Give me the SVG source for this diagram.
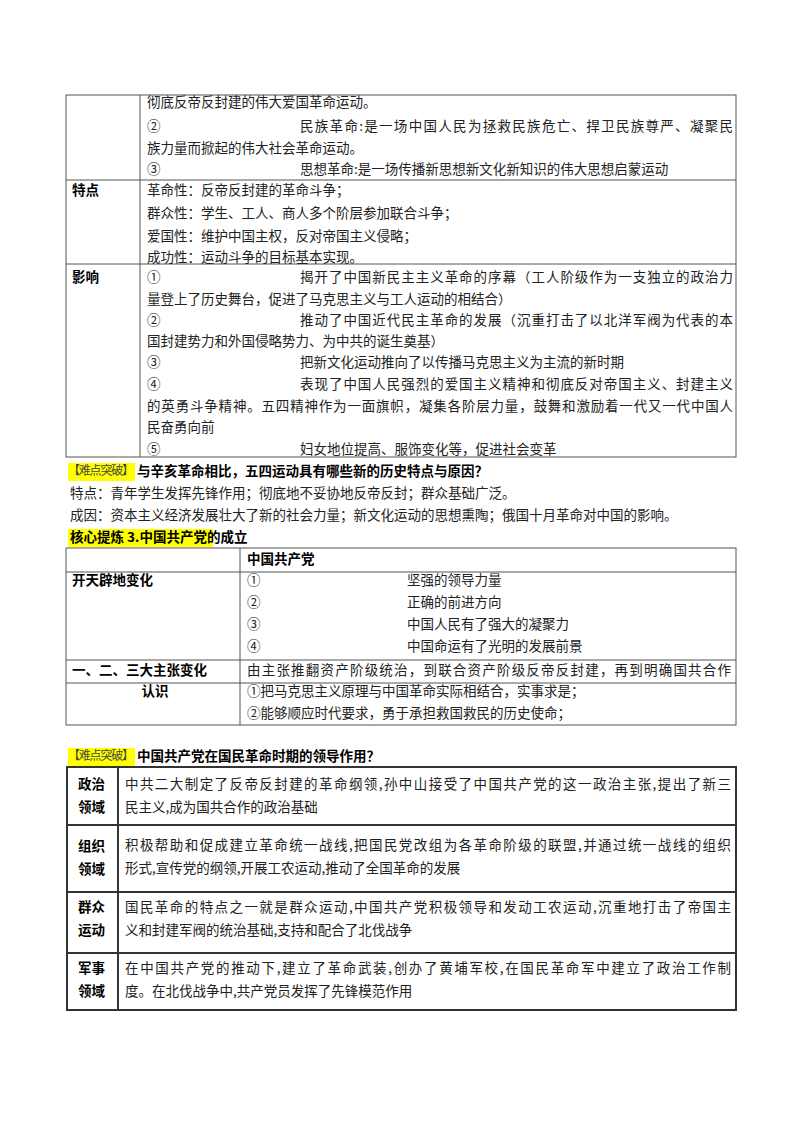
<svg xmlns="http://www.w3.org/2000/svg" width="800" height="1132" viewBox="0 0 800 1132">
<style>
text{font-family:"Noto Sans CJK SC","Liberation Sans",sans-serif;font-size:13.5px;fill:#222;dominant-baseline:middle}
.b{font-weight:bold;fill:#000}
.ln{stroke:#555;stroke-width:1;fill:none}
.tk{stroke:#333;stroke-width:2;fill:none}
.hl{fill:#ffff00}
.tag{font-size:12px;fill:#444}
</style>
<rect width="800" height="1132" fill="#fff"/>
<g id="table1">
<rect class="ln" x="66" y="95" width="670" height="362"/>
<line class="ln" x1="140" y1="95" x2="140" y2="457"/>
<line class="ln" x1="66" y1="180" x2="736" y2="180"/>
<line class="ln" x1="66" y1="264" x2="736" y2="264"/>
<text x="147" y="103">彻底反帝反封建的伟大爱国革命运动。</text>
<text x="147" y="127">②</text><text x="300" y="127" textLength="433">民族革命:是一场中国人民为拯救民族危亡、捍卫民族尊严、凝聚民</text>
<text x="147" y="149">族力量而掀起的伟大社会革命运动。</text>
<text x="147" y="170">③</text><text x="300" y="170">思想革命:是一场传播新思想新文化新知识的伟大思想启蒙运动</text>
<text class="b" x="72" y="191">特点</text>
<text x="147" y="191">革命性：反帝反封建的革命斗争；</text>
<text x="147" y="214">群众性：学生、工人、商人多个阶层参加联合斗争；</text>
<text x="147" y="237">爱国性：维护中国主权，反对帝国主义侵略；</text>
<text x="147" y="258">成功性：运动斗争的目标基本实现。</text>
<text class="b" x="72" y="278">影响</text>
<text x="147" y="278">①</text><text x="300" y="278" textLength="433">揭开了中国新民主主义革命的序幕（工人阶级作为一支独立的政治力</text>
<text x="147" y="300">量登上了历史舞台，促进了马克思主义与工人运动的相结合）</text>
<text x="147" y="321">②</text><text x="300" y="321" textLength="433">推动了中国近代民主革命的发展（沉重打击了以北洋军阀为代表的本</text>
<text x="147" y="342">国封建势力和外国侵略势力、为中共的诞生奠基）</text>
<text x="147" y="363">③</text><text x="300" y="363">把新文化运动推向了以传播马克思主义为主流的新时期</text>
<text x="147" y="385">④</text><text x="300" y="385" textLength="433">表现了中国人民强烈的爱国主义精神和彻底反对帝国主义、封建主义</text>
<text x="147" y="407" textLength="586">的英勇斗争精神。五四精神作为一面旗帜，凝集各阶层力量，鼓舞和激励着一代又一代中国人</text>
<text x="147" y="428">民奋勇向前</text>
<text x="147" y="450">⑤</text><text x="300" y="450">妇女地位提高、服饰变化等，促进社会变革</text>
</g>
<g id="section1">
<rect class="hl" x="68" y="463" width="67" height="18"/>
<text class="tag" x="68" y="472" textLength="66">【难点突破】</text><text class="b" x="137" y="472">与辛亥革命相比，五四运动具有哪些新的历史特点与原因？</text>
<text x="70" y="494">特点：青年学生发挥先锋作用；彻底地不妥协地反帝反封；群众基础广泛。</text>
<text x="70" y="516">成因：资本主义经济发展壮大了新的社会力量；新文化运动的思想熏陶；俄国十月革命对中国的影响。</text>
<rect class="hl" x="68" y="529" width="145" height="18"/>
<text class="b" x="70" y="538">核心提炼 3.中国共产党的成立</text>
</g>
<g id="table2">
<rect class="ln" x="66" y="548" width="670" height="177"/>
<line class="ln" x1="240" y1="548" x2="240" y2="725"/>
<line class="ln" x1="66" y1="572" x2="736" y2="572"/>
<line class="ln" x1="66" y1="660" x2="736" y2="660"/>
<line class="ln" x1="66" y1="683" x2="736" y2="683"/>
<text class="b" x="247" y="560">中国共产党</text>
<text class="b" x="72" y="581">开天辟地变化</text>
<text x="247" y="581">①</text><text x="407" y="581">坚强的领导力量</text>
<text x="247" y="603">②</text><text x="407" y="603">正确的前进方向</text>
<text x="247" y="625">③</text><text x="407" y="625">中国人民有了强大的凝聚力</text>
<text x="247" y="647">④</text><text x="407" y="647">中国命运有了光明的发展前景</text>
<text class="b" x="72" y="671">一、二、三大主张变化</text>
<text x="247" y="671" textLength="484">由主张推翻资产阶级统治，到联合资产阶级反帝反封建，再到明确国共合作</text>
<text class="b" x="155" y="692" text-anchor="middle">认识</text>
<text x="247" y="692">①把马克思主义原理与中国革命实际相结合，实事求是；</text>
<text x="247" y="714">②能够顺应时代要求，勇于承担救国救民的历史使命；</text>
</g>
<g id="section2">
<rect class="hl" x="68" y="748" width="67" height="18"/>
<text class="tag" x="68" y="757" textLength="66">【难点突破】</text><text class="b" x="137" y="757">中国共产党在国民革命时期的领导作用？</text>
</g>
<g id="table3">
<rect class="tk" x="67" y="767" width="669" height="243"/>
<line class="tk" x1="118" y1="767" x2="118" y2="1010"/>
<line class="tk" x1="67" y1="825" x2="736" y2="825"/>
<line class="tk" x1="67" y1="892" x2="736" y2="892"/>
<line class="tk" x1="67" y1="953" x2="736" y2="953"/>
<text class="b" x="78" y="785">政治</text><text class="b" x="78" y="808">领域</text>
<text x="125" y="785" textLength="606">中共二大制定了反帝反封建的革命纲领,孙中山接受了中国共产党的这一政治主张,提出了新三</text>
<text x="125" y="808">民主义,成为国共合作的政治基础</text>
<text class="b" x="78" y="847">组织</text><text class="b" x="78" y="870">领域</text>
<text x="125" y="846" textLength="606">积极帮助和促成建立革命统一战线,把国民党改组为各革命阶级的联盟,并通过统一战线的组织</text>
<text x="125" y="869">形式,宣传党的纲领,开展工农运动,推动了全国革命的发展</text>
<text class="b" x="78" y="908">群众</text><text class="b" x="78" y="931">运动</text>
<text x="125" y="908" textLength="606">国民革命的特点之一就是群众运动,中国共产党积极领导和发动工农运动,沉重地打击了帝国主</text>
<text x="125" y="931">义和封建军阀的统治基础,支持和配合了北伐战争</text>
<text class="b" x="78" y="969">军事</text><text class="b" x="78" y="992">领域</text>
<text x="125" y="969" textLength="606">在中国共产党的推动下,建立了革命武装,创办了黄埔军校,在国民革命军中建立了政治工作制</text>
<text x="125" y="992">度。在北伐战争中,共产党员发挥了先锋模范作用</text>
</g>
</svg>
